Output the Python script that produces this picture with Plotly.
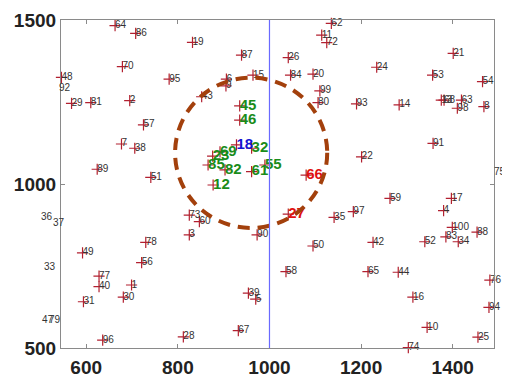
import plotly.graph_objects as go

# ---- data: regular points (label, x, y) ----
labels = ["64", "86", "70", "48", "29", "81", "2", "95", "57", "19", "87", "6", "9", "15", "43",
          "26", "84", "20", "99", "80", "62", "11", "72", "21", "24", "53", "54", "93", "14",
          "13", "68", "63", "98", "8", "7", "38", "89", "51", "78", "73", "60", "3", "90", "35",
          "50", "91", "22", "59", "17", "97", "4", "100", "88", "42", "52", "83", "34", "49",
          "77", "40", "1", "56", "30", "31", "96", "58", "39", "5", "67", "28", "65", "44",
          "76", "94", "16", "10", "25", "74"]
xs = [663, 708, 679, 546, 568, 610, 695, 781, 725, 832, 939, 906, 905, 964, 852,
      1041, 1046, 1095, 1110, 1106, 1135, 1114, 1125, 1401, 1234, 1356, 1465, 1190, 1283,
      1375, 1381, 1419, 1410, 1468, 677, 706, 624, 741, 730, 825, 847, 825, 973, 1141,
      1095, 1357, 1201, 1263, 1397, 1183, 1380, 1399, 1453, 1226, 1339, 1385, 1412, 592,
      628, 628, 699, 721, 681, 594, 636, 1036, 954, 970, 932, 812, 1215, 1281,
      1481, 1479, 1313, 1344, 1455, 1303]
ys = [1483, 1459, 1358, 1325, 1246, 1248, 1254, 1320, 1180, 1432, 1393, 1320, 1299, 1332, 1266,
      1385, 1332, 1335, 1284, 1248, 1490, 1454, 1431, 1398, 1356, 1332, 1312, 1244, 1241,
      1256, 1256, 1256, 1231, 1236, 1122, 1109, 1045, 1020, 822, 905, 885, 845, 845, 898,
      811, 1124, 1083, 956, 956, 916, 919, 868, 853, 822, 824, 839, 824, 790,
      719, 687, 692, 760, 655, 641, 524, 733, 667, 649, 553, 534, 733, 731,
      707, 624, 655, 563, 533, 501]

# ---- highlighted points ----
green_labels = ["45", "46", "69", "23", "32", "85", "82", "61", "55", "12"]
green_x = [935, 935, 892, 876, 961, 866, 903, 961, 990, 877]
green_y = [1238, 1195, 1098, 1085, 1109, 1058, 1043, 1038, 1058, 997]
blue_labels = ["18"]
blue_x = [928]
blue_y = [1119]
red_labels = ["66", "27"]
red_x = [1080, 1041]
red_y = [1027, 908]

# ---- points lying outside the axes (only their labels show) ----
out_labels = ["92", "36", "37", "33", "47", "79", "75"]
out_x = [541, 501, 528, 508, 503, 519, 1489]
out_y = [1293, 900, 882, 750, 588, 588, 1037]

# ---- axes ----
X_RANGE = [545, 1490]
Y_RANGE = [500, 1500]
x_ticks = [600, 800, 1000, 1200, 1400]
y_ticks = [500, 1000, 1500]

# ---- reference shapes ----
circle_center = (960, 1095)
circle_rx, circle_ry = 166, 229
vline_x = 1000

MARK = "#b22030"
FONT = "Liberation Sans, Arial, sans-serif"

fig = go.Figure()

all_mx = xs + green_x + blue_x + red_x
all_my = ys + green_y + blue_y + red_y
fig.add_trace(go.Scatter(x=all_mx, y=all_my, mode="markers", cliponaxis=False,
                         marker=dict(symbol="cross-thin", size=8,
                                     line=dict(color=MARK, width=1.2)),
                         hoverinfo="skip", showlegend=False))

fig.add_trace(go.Scatter(x=xs, y=ys, mode="text", text=labels, textposition="middle right",
                         cliponaxis=False,
                         textfont=dict(family=FONT, size=10, color="#333333"),
                         showlegend=False))
fig.add_trace(go.Scatter(x=green_x, y=green_y, mode="text", text=green_labels,
                         textposition="middle right", cliponaxis=False,
                         textfont=dict(family=FONT, size=15, color="#1a8c1a", weight="bold"),
                         showlegend=False))
fig.add_trace(go.Scatter(x=blue_x, y=blue_y, mode="text", text=blue_labels,
                         textposition="middle right", cliponaxis=False,
                         textfont=dict(family=FONT, size=15, color="#1414d2", weight="bold"),
                         showlegend=False))
fig.add_trace(go.Scatter(x=red_x, y=red_y, mode="text", text=red_labels,
                         textposition="middle right", cliponaxis=False,
                         textfont=dict(family=FONT, size=15, color="#e01010", weight="bold"),
                         showlegend=False))

# labels of points outside the axis range (markers clipped, text still shown);
# converted to paper fractions through the axis ranges so they are not hidden
def to_paper(v, rng):
    return (v - rng[0]) / (rng[1] - rng[0])

for t, x, y in zip(out_labels, out_x, out_y):
    fig.add_annotation(x=to_paper(x, X_RANGE), y=to_paper(y, Y_RANGE),
                       xref="paper", yref="paper", text=t, showarrow=False,
                       xanchor="left", yanchor="middle", borderpad=0, xshift=-1,
                       font=dict(family=FONT, size=10, color="#333333"))

cx, cy = circle_center
fig.add_shape(type="circle", xref="x", yref="y",
              x0=cx - circle_rx, x1=cx + circle_rx, y0=cy - circle_ry, y1=cy + circle_ry,
              line=dict(color="#a3400c", width=4, dash="12px,8px"))
fig.add_shape(type="line", xref="x", yref="y", x0=vline_x, x1=vline_x, y0=500, y1=1500,
              line=dict(color="#6a6aff", width=1.2))

axis_common = dict(showgrid=False, zeroline=False, showline=True, mirror="ticks",
                   linecolor="#8a8a8a", linewidth=1.2, ticks="inside", ticklen=4,
                   tickcolor="#8a8a8a", automargin=False,
                   tickfont=dict(family=FONT, size=19, color="#222222", weight="bold"))
fig.update_xaxes(range=X_RANGE, tickvals=x_ticks, ticklabelstandoff=2, **axis_common)
fig.update_yaxes(range=Y_RANGE, tickvals=y_ticks, ticklabelstandoff=0, **axis_common)

# page body adds an 8px offset, so the figure is sized to keep the plot area in place
fig.update_layout(width=502, height=368, margin=dict(l=53, r=16, t=12, b=28),
                  plot_bgcolor="white", paper_bgcolor="white", showlegend=False)

fig.write_html("out.html")
